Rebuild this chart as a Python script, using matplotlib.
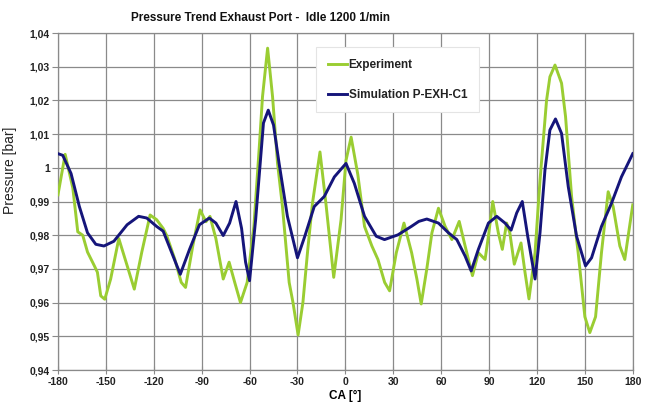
import matplotlib
matplotlib.use("Agg")
import matplotlib.pyplot as plt
from matplotlib.ticker import FuncFormatter

# ---- data ----
exp_ca = [-180, -175.5, -170.7, -167.6, -164.5, -161.5, -157.3, -155.3, -153.2, -150.7,
          -147, -141.9, -136.7, -132.2, -127.5, -122.3, -118.2, -114.1, -112, -106.9,
          -102.8, -100.1, -95.5, -91, -87.3, -84.8, -81.1, -76.5, -72.8, -69.3,
          -65.7, -61.5, -57.3, -53.9, -51.9, -48.7, -45.6, -42.5, -39.4, -35.2,
          -32.8, -29.6, -26.6, -23.5, -20.6, -15.9, -12.2, -7.3, -2.7, 0.4,
          3.6, 7.8, 12, 16.6, 20.4, 24.6, 27.7, 31.9, 36.7, 41.5,
          44.8, 47.5, 51, 54.2, 58.3, 62.5, 66.7, 71.3, 75, 79.6,
          83.3, 87.5, 89.6, 92.3, 95.8, 98.3, 101, 103, 105.8, 110,
          112.5, 115, 118.8, 121.9, 126, 128.1, 131.3, 135.4, 137.9, 141.7,
          145.8, 150, 153.1, 156.7, 160.4, 164.6, 167.7, 171.9, 175, 177.1,
          180]
exp_p = [0.992, 1.004, 0.994, 0.981, 0.980, 0.975, 0.971, 0.969, 0.962, 0.961,
         0.967, 0.979, 0.971, 0.964, 0.975, 0.986, 0.9846, 0.982, 0.980, 0.973,
         0.966, 0.9645, 0.977, 0.9875, 0.984, 0.9856, 0.979, 0.967, 0.972, 0.966,
         0.960, 0.966, 0.9826, 1.0063, 1.0211, 1.0355, 1.0211, 1.0014, 0.9885, 0.966,
         0.960, 0.9504, 0.960, 0.976, 0.9895, 1.0047, 0.9895, 0.9675, 0.9846, 1.0022,
         1.0091, 0.998, 0.9826, 0.9768, 0.9728, 0.966, 0.9635, 0.9748, 0.9836, 0.9748,
         0.967, 0.9596, 0.970, 0.9807, 0.988, 0.9826, 0.9787, 0.9841, 0.9768, 0.968,
         0.9748, 0.9728, 0.9797, 0.990, 0.9807, 0.9758, 0.9836, 0.9807, 0.9714, 0.9777,
         0.969, 0.9611, 0.9748, 0.9963, 1.020, 1.027, 1.0305, 1.0251, 1.0152, 0.9914,
         0.9748, 0.9558, 0.9511, 0.9558, 0.9748, 0.9929, 0.9885, 0.9768, 0.9728, 0.9797,
         0.989]

sim_ca = [-180, -177, -171.8, -166.6, -161.5, -156.3, -151.2, -145, -136.7, -129.5,
          -124.4, -118.2, -114.1, -107.9, -103.4, -97.6, -91.4, -85.2, -81.1, -76.5,
          -72.5, -68.5, -65, -62.5, -60, -56.2, -51.3, -48.3, -45, -41.5,
          -36.3, -30, -25.4, -19.5, -13.2, -6.9, 0.4, 5.6, 12, 19.3,
          24.5, 32.9, 41.3, 46, 51, 58.3, 64.6, 69.8, 75, 78.8,
          83.3, 89.6, 94.8, 100, 103.8, 107.3, 110.8, 114.2, 118.8, 121.9,
          125, 128.1, 131.6, 135.4, 139.6, 144.8, 150.4, 154.2, 160.4, 166.7,
          172.9, 180]
sim_p = [1.0042, 1.0037, 0.9983, 0.9885, 0.9807, 0.9773, 0.9768, 0.9782, 0.9831, 0.9856,
         0.9851, 0.9826, 0.9812, 0.9738, 0.9684, 0.9758, 0.9831, 0.9851, 0.9836, 0.9799,
         0.9836, 0.990, 0.982, 0.972, 0.9665, 0.9846, 1.0133, 1.0171, 1.0127, 1.0013,
         0.9856, 0.9733, 0.9797, 0.9885, 0.9915, 0.9973, 1.0013, 0.9954, 0.9856, 0.9797,
         0.9787, 0.9801, 0.9826, 0.9841, 0.9848, 0.9836, 0.9807, 0.9787, 0.9738, 0.9694,
         0.9758, 0.9836, 0.9856, 0.9836, 0.9815, 0.9866, 0.990, 0.9797, 0.967, 0.9807,
         0.9993, 1.0112, 1.0145, 1.0102, 0.9944, 0.9797, 0.9709, 0.9733, 0.9826, 0.9895,
         0.9973, 1.0042]

x_ticks = list(range(-180, 181, 30))
y_ticks = [0.94, 0.95, 0.96, 0.97, 0.98, 0.99, 1.00, 1.01, 1.02, 1.03, 1.04]

plt.rcParams.update({"font.family": ["Liberation Sans", "DejaVu Sans"], "font.size": 7.5,
                     "axes.unicode_minus": False})
GREEN, NAVY, GRID = "#9acd32", "#15157a", "#8a8a8a"

fig = plt.figure(figsize=(6.47, 4.05), dpi=100)
ax = fig.add_axes([0.0896, 0.0864, 0.8884, 0.8321])

ax.plot(exp_ca, exp_p, color=GREEN, lw=2.1, label="Experiment", solid_joinstyle="round", zorder=3)
ax.plot(sim_ca, sim_p, color=NAVY, lw=2.1, label="Simulation P-EXH-C1", solid_joinstyle="round", zorder=4)

ax.set_xlim(-180, 180); ax.set_ylim(0.94, 1.04)
ax.set_xticks(x_ticks); ax.set_yticks(y_ticks)


def comma(v, _):
    s = f"{v:.2f}".replace(".", ",")
    return "1" if s == "1,00" else s


ax.yaxis.set_major_formatter(FuncFormatter(comma))
ax.grid(True, color=GRID, lw=0.9)
for sp in ax.spines.values():
    sp.set_color(GRID); sp.set_linewidth(0.9)
ax.tick_params(axis="y", direction="out", length=4, color=GRID, pad=2)
ax.tick_params(axis="x", direction="inout", length=6, color=GRID, pad=2)
for lab in ax.get_xticklabels() + ax.get_yticklabels():
    lab.set_fontweight("bold"); lab.set_color("#222222")

ax.set_xlabel("CA [°]", fontweight="bold", fontsize=8.5, labelpad=2)
ax.set_ylabel("Pressure [bar]", fontsize=10, color="#222222")
ax.yaxis.set_label_coords(-0.071, 0.593)
fig.text(0.402, 0.955, "Pressure Trend Exhaust Port -  Idle 1200 1/min", fontweight="bold",
         fontsize=8.5, ha="center", va="center", color="#111111")

leg = ax.legend(loc="upper left", bbox_to_anchor=(0.449, 0.958), borderaxespad=0, frameon=True,
                fancybox=False, handlelength=1.6, handletextpad=0.15, labelspacing=1.5,
                borderpad=1.0, prop={"weight": "bold", "size": 8.5})
for t in leg.get_texts():
    t.set_color("#222222")
leg.get_frame().set_edgecolor("#e4e4e4"); leg.get_frame().set_linewidth(0.8)
leg.get_frame().set_alpha(1)

fig.savefig("out.png", dpi=100)
